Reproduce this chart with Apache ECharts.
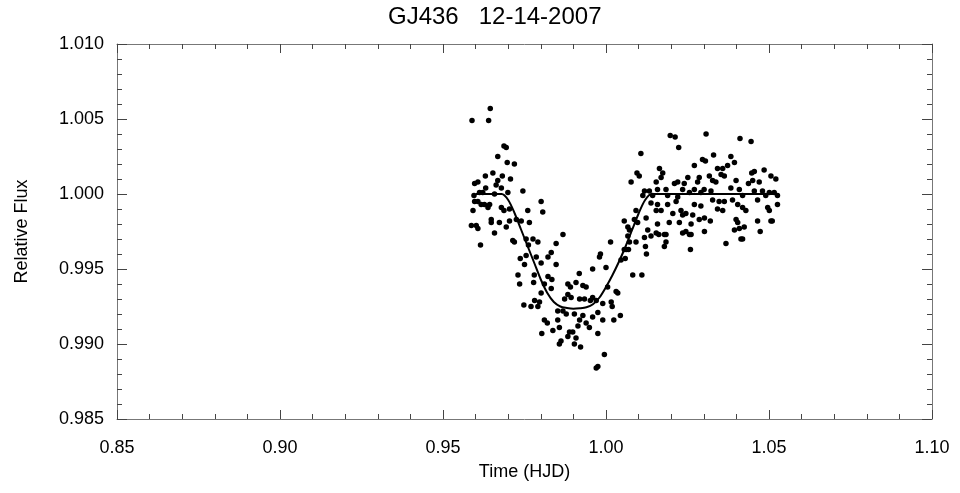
<!DOCTYPE html>
<html><head><meta charset="utf-8">
<script src="https://cdn.jsdelivr.net/npm/echarts@6/dist/echarts.min.js"></script>
<style>html,body{margin:0;background:#fff}#c{width:960px;height:493px}</style>
</head><body><div id="c"></div>
<script>
const chartTitle = 'GJ436   12-14-2007';
const xAxisName = 'Time (HJD)';
const yAxisName = 'Relative Flux';
const xRange = [0.85, 1.10, 0.05];
const yRange = [0.985, 1.010, 0.005];

// observed photometry [time, relative flux]
const observations = [
[0.9645,1.0057],[0.9589,1.0049],[0.9640,1.0049],[0.9687,1.0032],[0.9694,1.0031],[0.9668,1.0025],[0.9697,1.0021],[0.9719,1.0020],
[0.9630,1.0012],[0.9653,1.0014],[0.9682,1.0012],[0.9707,1.0010],[0.9597,1.0007],[0.9607,1.0008],[0.9668,1.0009],[0.9663,1.0006],
[0.9631,1.0004],[0.9679,1.0004],[0.9699,1.0001],[0.9612,1.0001],[0.9622,1.0001],[0.9658,1.0000],[0.9595,0.9999],[0.9745,1.0002],
[0.9801,0.9995],[0.9597,0.9995],[0.9607,0.9995],[0.9617,0.9993],[0.9627,0.9993],[0.9643,0.9993],[0.9638,0.9991],[0.9592,0.9989],
[0.9679,0.9991],[0.9687,0.9989],[0.9760,0.9989],[0.9806,0.9988],[0.9704,0.9990],[0.9648,0.9983],[0.9648,0.9981],[0.9673,0.9981],
[0.9587,0.9979],[0.9602,0.9979],[0.9607,0.9977],[0.9694,0.9978],[0.9704,0.9982],[0.9725,0.9983],[0.9740,0.9982],[0.9765,0.9981],
[0.9658,0.9974],[0.9868,0.9973],
[0.9615,0.9966],[0.9714,0.9969],[0.9719,0.9968],[0.9755,0.9970],[0.9776,0.9970],[0.9791,0.9968],[0.9762,0.9966],[0.9847,0.9967],
[0.9832,0.9961],[0.9737,0.9957],[0.9755,0.9959],[0.9786,0.9958],[0.9822,0.9958],[0.9750,0.9953],[0.9801,0.9954],[0.9847,0.9953],
[1.0014,0.9968],[0.9983,0.9960],[0.9980,0.9958],[0.9959,0.9950],[1.0000,0.9951],[1.0046,0.9956],[1.0056,0.9963],[0.9730,0.9946],
[0.9735,0.9940],[0.9780,0.9946],[0.9822,0.9945],[0.9834,0.9943],[0.9918,0.9947],[0.9908,0.9941],[0.9883,0.9940],[0.9891,0.9938],
[0.9929,0.9939],[0.9939,0.9938],[0.9778,0.9941],[0.9811,0.9940],[0.9832,0.9937],[0.9801,0.9934],[0.9796,0.9928],[0.9781,0.9929],
[0.9748,0.9926],[0.9770,0.9925],[0.9791,0.9925],[0.9883,0.9933],[0.9873,0.9930],[0.9893,0.9931],[0.9919,0.9930],[0.9934,0.9930],
[0.9959,0.9931],[0.9970,0.9929],[0.9952,0.9929],[1.0005,0.9938],[1.0031,0.9935],[1.0016,0.9928],[1.0036,0.9934],[0.9990,0.9927],
[1.0019,0.9925],[0.9852,0.9922],[0.9868,0.9922],[0.9878,0.9920],[0.9903,0.9920],[0.9929,0.9919],[0.9959,0.9918],[0.9975,0.9921],
[0.9990,0.9916],[1.0024,0.9916],[1.0044,0.9919],[0.9811,0.9916],[0.9820,0.9914],[0.9852,0.9916],[0.9919,0.9916],[0.9939,0.9914],
[0.9949,0.9911],[0.9914,0.9912],[0.9857,0.9911],[0.9837,0.9909],[0.9803,0.9907],[0.9888,0.9908],[0.9898,0.9908],[0.9975,0.9907],
[0.9883,0.9905],[0.9908,0.9904],[0.9862,0.9902],[0.9857,0.9900],[0.9903,0.9900],[0.9922,0.9898],[0.9995,0.9893],[0.9970,0.9884],
[0.9975,0.9885],
[1.0197,1.0039],[1.0212,1.0038],[1.0223,1.0031],[1.0307,1.0040],[1.0411,1.0037],[1.0445,1.0035],[1.0107,1.0027],[1.0330,1.0026],
[1.0296,1.0023],[1.0305,1.0022],[1.0271,1.0019],[1.0383,1.0025],[1.0394,1.0021],[1.0164,1.0017],[1.0174,1.0014],[1.0095,1.0014],
[1.0102,1.0012],[1.0077,1.0008],[1.0154,1.0008],[1.0169,1.0011],[1.0210,1.0007],[1.0220,1.0008],[1.0240,1.0007],[1.0251,1.0011],
[1.0281,1.0008],[1.0286,1.0011],[1.0317,1.0012],[1.0327,1.0009],[1.0342,1.0017],[1.0358,1.0017],[1.0373,1.0019],[1.0363,1.0012],
[1.0353,1.0013],[1.0337,1.0008],[1.0399,1.0009],[1.0447,1.0014],[1.0455,1.0015],[1.0485,1.0016],[1.0506,1.0012],[1.0521,1.0010],
[1.0437,1.0007],[1.0470,1.0008],[1.0450,1.0009],[1.0409,1.0003],[1.0383,1.0004],[1.0455,1.0002],[1.0480,1.0002],[1.0501,1.0001],
[1.0516,1.0001],[1.0301,1.0003],[1.0322,1.0002],[1.0291,1.0001],[1.0271,1.0003],[1.0256,1.0001],[1.0235,1.0003],[1.0184,1.0003],
[1.0158,1.0003],[1.0118,1.0002],[1.0133,1.0002],[1.0143,0.9999],[1.0113,0.9999],[1.0189,0.9999],[1.0220,0.9998],[1.0419,0.9999],
[1.0465,0.9996],[1.0490,0.9999],[1.0526,0.9999],[1.0327,0.9996],[1.0347,0.9995],[1.0363,0.9995],[1.0388,0.9996],[1.0215,0.9995],
[1.0189,0.9993],[1.0158,0.9993],[1.0138,0.9994],[1.0271,0.9993],[1.0291,0.9992],[1.0342,0.9990],[1.0358,0.9989],[1.0404,0.9993],
[1.0419,0.9991],[1.0429,0.9989],[1.0496,0.9991],[1.0526,0.9993],[1.0501,0.9989],[1.0154,0.9989],[1.0169,0.9989],[1.0205,0.9987],
[1.0230,0.9989],[1.0245,0.9987],[1.0235,0.9986],[1.0266,0.9986],[1.0286,0.9983],[1.0302,0.9984],[1.0320,0.9982],[1.0399,0.9983],
[1.0404,0.9981],[1.0465,0.9982],[1.0506,0.9982],[1.0158,0.9980],[1.0194,0.9981],[1.0225,0.9981],[1.0261,0.9980],[1.0092,0.9989],
[1.0087,0.9983],[1.0097,0.9981],[1.0056,0.9982],[1.0067,0.9978],[1.0123,0.9984],[1.0128,0.9976],[1.0154,0.9974],[1.0179,0.9973],
[1.0245,0.9975],[1.0302,0.9975],[1.0394,0.9976],[1.0409,0.9977],[1.0473,0.9975],[1.0424,0.9978],[1.0072,0.9976],
[1.0067,0.9972],[1.0072,0.9968],[1.0092,0.9968],[1.0062,0.9963],[1.0069,0.9963],[1.0059,0.9957],[1.0118,0.9971],[1.0138,0.9972],
[1.0162,0.9973],[1.0184,0.9973],[1.0184,0.9968],[1.0179,0.9965],[1.0121,0.9965],[1.0124,0.9960],[1.0235,0.9974],[1.0256,0.9973],
[1.0261,0.9973],[1.0259,0.9963],[1.0082,0.9946],[1.0110,0.9946],[1.0368,0.9967],[1.0414,0.9970],[1.0419,0.9970],[1.0510,0.9982]
];

// fitted transit model [time, relative flux]
const transitModel = [
[0.9600,1.0000],[0.9680,1.0000],[0.9700,0.9996],[0.9720,0.9987],[0.9740,0.9976],[0.9760,0.9965],[0.9780,0.9954],
[0.9800,0.9943],[0.9820,0.9934],[0.9840,0.9928],[0.9860,0.99250],[0.9880,0.99240],[0.9900,0.99235],[0.9920,0.99238],
[0.9940,0.99245],[0.9960,0.99265],[0.9980,0.9931],[1.0000,0.9938],[1.0020,0.9946],[1.0040,0.9955],[1.0060,0.9965],
[1.0080,0.9976],[1.0100,0.9987],[1.0120,0.9996],[1.0140,1.0000],[1.0530,1.0000]
];

const font = 'Liberation Sans';
const frameColor = '#777';
const tickColor = '#444';

function xAxisDef(pos, labels) {
  return {
    type: 'value', position: pos, min: xRange[0], max: xRange[1], interval: xRange[2],
    axisLine: { show: true, onZero: false, lineStyle: { color: frameColor, width: 1 } },
    axisTick: { show: true, inside: true, length: 9, lineStyle: { color: tickColor, width: 1 } },
    minorTick: { show: true, splitNumber: 5, length: 5, lineStyle: { color: tickColor, width: 1 } },
    splitLine: { show: false },
    axisLabel: { show: labels, formatter: v => v.toFixed(2), color: '#000', fontSize: 18, margin: 20, fontFamily: font },
    name: labels ? xAxisName : '', nameLocation: 'middle', nameGap: 44,
    nameTextStyle: { color: '#000', fontSize: 18, fontFamily: font }
  };
}
function yAxisDef(pos, labels) {
  return {
    type: 'value', position: pos, min: yRange[0], max: yRange[1], interval: yRange[2],
    axisLine: { show: true, onZero: false, lineStyle: { color: frameColor, width: 1 } },
    axisTick: { show: true, inside: true, length: 10, lineStyle: { color: tickColor, width: 1 } },
    minorTick: { show: true, splitNumber: 5, length: 5, lineStyle: { color: tickColor, width: 1 } },
    splitLine: { show: false },
    axisLabel: { show: labels, formatter: v => v.toFixed(3), color: '#000', fontSize: 18, margin: 13, fontFamily: font },
    name: labels ? yAxisName : '', nameLocation: 'middle', nameGap: 86,
    nameTextStyle: { color: '#000', fontSize: 18, fontFamily: font }
  };
}

const chart = echarts.init(document.getElementById('c'), null, { renderer: 'canvas' });
chart.setOption({
  animation: false,
  backgroundColor: '#fff',
  title: { text: chartTitle, left: 383, top: 0, textStyle: { color: '#000', fontSize: 24, fontWeight: 'normal', fontFamily: font } },
  grid: { left: 117, right: 28, top: 44, bottom: 74 },
  xAxis: [xAxisDef('bottom', true), xAxisDef('top', false)],
  yAxis: [yAxisDef('left', true), yAxisDef('right', false)],
  series: [
    { type: 'scatter', xAxisIndex: 0, yAxisIndex: 0, data: observations, symbol: 'circle', symbolSize: 5.5,
      itemStyle: { color: '#000', opacity: 1 }, z: 2 },
    { type: 'line', xAxisIndex: 0, yAxisIndex: 0, data: transitModel, smooth: 0.3, showSymbol: false, symbol: 'none',
      lineStyle: { color: '#000', width: 2 }, z: 3 }
  ]
});
</script>
</body></html>
